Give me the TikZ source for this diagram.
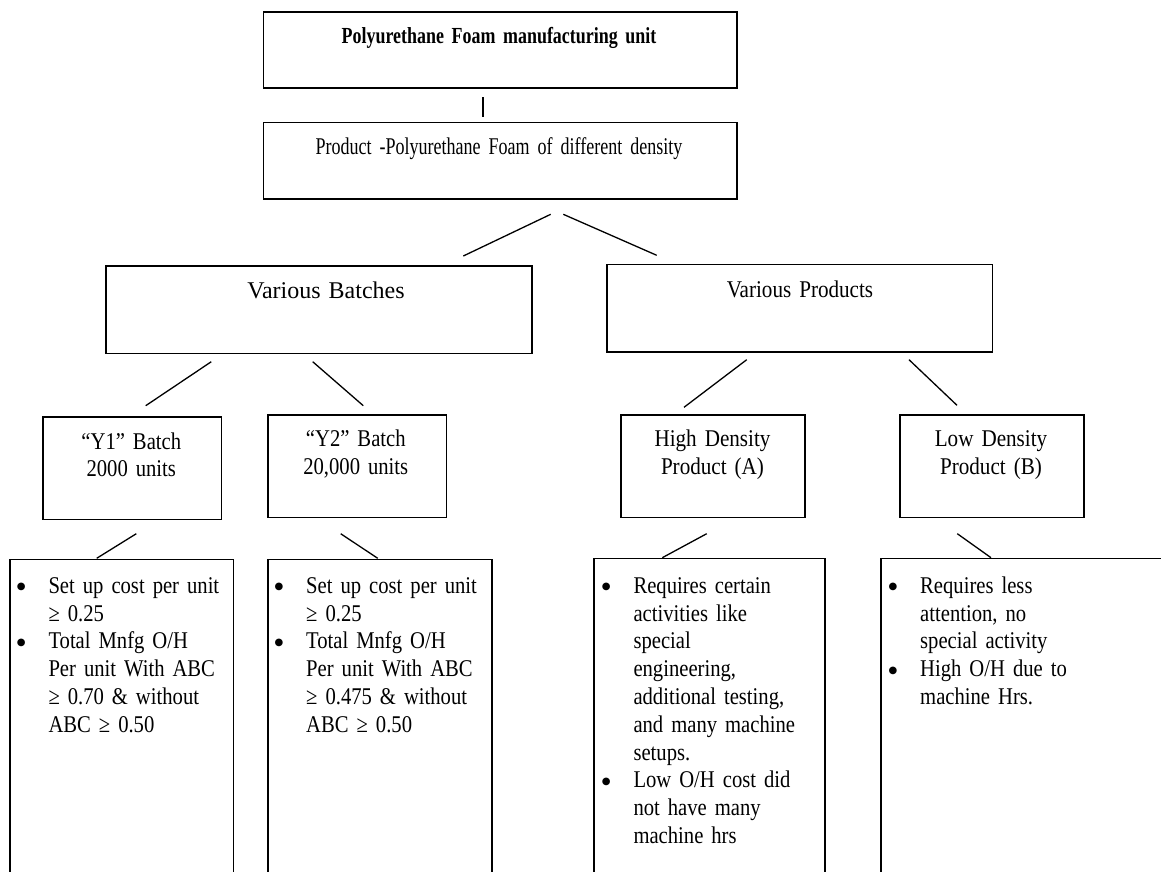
\documentclass[tikz,border=0pt]{standalone}
\usepackage{fontspec}
\setmainfont{Liberation Serif}
\newfontfamily\fTitle{Liberation Serif}[FakeStretch=0.78]
\newfontfamily\fProd{Liberation Serif}[FakeStretch=0.75]
\newfontfamily\fMid{Liberation Serif}[FakeStretch=0.88]
\newfontfamily\fLow{Liberation Serif}[FakeStretch=0.86]
\newfontfamily\fSym{DejaVu Sans}
\newcommand{\spLow}{\spaceskip=4.8pt\relax}
\newcommand{\spTop}{\spaceskip=4.8pt\relax}
\newcommand{\spProd}{\spaceskip=4.5pt\relax}
\newcommand{\bul}{\makebox[54.6pt][c]{\raisebox{3.6pt}{\fSym\fontsize{10}{0}\selectfont ●}}}
\newcommand{\ind}{\hspace*{54.6pt}}
\usetikzlibrary{calc}
\begin{document}
\begin{tikzpicture}[x=1pt,y=-1pt,
  box/.style={draw, line width=1.6pt, rectangle, inner sep=0pt, anchor=north west},
  conn/.style={line width=1.3pt},
  lbl/.style={anchor=base, inner sep=0pt, text width=240pt, align=center, font=\fontsize{24}{27.8}\selectfont},
  lst/.style={anchor=base west, inner sep=0pt, text width=300pt, align=left,
    font=\fLow\fontsize{24}{27.8}\selectfont\spLow}]
\useasboundingbox (0,0) rectangle (1161,871);
\clip (0,0) rectangle (1161,871);

% boxes
\node[box, minimum width=473.3pt, minimum height=76.3pt] (top) at (262.7,11) {};
\node[box, minimum width=473.3pt, minimum height=76.3pt] (prod) at (262.7,121.7) {};
\node[box, minimum width=425.7pt, minimum height=87.7pt] (bat) at (105.3,265) {};
\node[box, minimum width=385.7pt, minimum height=87.5pt] (pro) at (606,263.5) {};
\node[box, minimum width=178.4pt, minimum height=102.7pt] (y1) at (42.3,416) {};
\node[box, minimum width=178.4pt, minimum height=102.7pt] (y2) at (267.3,414) {};
\node[box, minimum width=184pt, minimum height=102.4pt] (hd) at (620.3,414.3) {};
\node[box, minimum width=184pt, minimum height=102.4pt] (ld) at (899.3,414.3) {};
\node[box, minimum width=223.4pt, minimum height=340pt] (b1) at (9.3,558.7) {};
\node[box, minimum width=223.7pt, minimum height=340pt] (b2) at (267.3,558.7) {};
\node[box, minimum width=230.7pt, minimum height=340pt] (b3) at (593.3,557.7) {};
\node[box, minimum width=320pt, minimum height=340pt] (b4) at (880,557.7) {};

% box texts
\node[lbl, font=\fTitle\bfseries\fontsize{23}{27}\selectfont\spTop, text width=460pt] (tTop) at (499,43.3) {Polyurethane Foam manufacturing unit};
\node[lbl, font=\fProd\fontsize{24}{27.8}\selectfont\spProd, text width=460pt] (tProd) at (499,154.3) {Product -Polyurethane Foam of different density};
\node[lbl] (tBat) at (326,298.3) {Various Batches};
\node[lbl, font=\fMid\fontsize{24}{27.8}\selectfont] (tPro) at (800,297) {Various Products};
\node[lbl, font=\fLow\fontsize{24}{27.7}\selectfont, text width=170pt] (tY1) at (131.3,449) {“Y1” Batch\\2000 units};
\node[lbl, font=\fLow\fontsize{24}{27.7}\selectfont, text width=170pt] (tY2) at (355.8,446.7) {“Y2” Batch\\20,000 units};
\node[lbl, font=\fMid\fontsize{24}{27.7}\selectfont, text width=170pt] (tHD) at (712.5,446.7) {High Density\\Product (A)};
\node[lbl, font=\fMid\fontsize{24}{27.7}\selectfont, text width=170pt] (tLD) at (991,446.7) {Low Density\\Product (B)};

% bullet lists
\node[lst] (l1) at (-6.3,593.3) {\bul Set up cost per unit\\\ind ≥ 0.25\\\bul Total Mnfg O/H\\\ind Per unit With ABC\\\ind ≥ 0.70 \& without\\\ind ABC ≥ 0.50};
\node[lst] (l2) at (251.4,593.3) {\bul Set up cost per unit\\\ind ≥ 0.25\\\bul Total Mnfg O/H\\\ind Per unit With ABC\\\ind ≥ 0.475 \& without\\\ind ABC ≥ 0.50};
\node[lst] (l3) at (578.7,593.3) {\bul Requires certain\\\ind activities like\\\ind special\\\ind engineering,\\\ind additional testing,\\\ind and many machine\\\ind setups.\\\bul Low O/H cost did\\\ind not have many\\\ind machine hrs};
\node[lst] (l4) at (865.4,593.3) {\bul Requires less\\\ind attention, no\\\ind special activity\\\bul High O/H due to\\\ind machine Hrs.};

% connector end points
\coordinate (a1) at (483,97);    \coordinate (a2) at (483,117);
\coordinate (p1) at (550.7,214.3); \coordinate (p2) at (463.3,256);
\coordinate (p3) at (563.3,214.3); \coordinate (p4) at (656.7,255.3);
\coordinate (q1) at (211.3,361.7); \coordinate (q2) at (145.7,405.7);
\coordinate (q3) at (312.7,361.7); \coordinate (q4) at (363.3,405.7);
\coordinate (r1) at (746.7,359.7); \coordinate (r2) at (684,407.3);
\coordinate (r3) at (909,359.7);   \coordinate (r4) at (957,405.3);
\coordinate (s1) at (136.3,533.7); \coordinate (s2) at (96.7,558.3);
\coordinate (s3) at (340.7,533.7); \coordinate (s4) at (377.7,558.3);
\coordinate (t1) at (706.7,533.7); \coordinate (t2) at (662.3,557.7);
\coordinate (t3) at (957.3,533.7); \coordinate (t4) at (991,557.7);

\draw[conn] (a1) -- (a2);
\draw[conn] (p1) -- (p2);
\draw[conn] (p3) -- (p4);
\draw[conn] (q1) -- (q2);
\draw[conn] (q3) -- (q4);
\draw[conn] (r1) -- (r2);
\draw[conn] (r3) -- (r4);
\draw[conn] (s1) -- (s2);
\draw[conn] (s3) -- (s4);
\draw[conn] (t1) -- (t2);
\draw[conn] (t3) -- (t4);
\end{tikzpicture}
\end{document}
